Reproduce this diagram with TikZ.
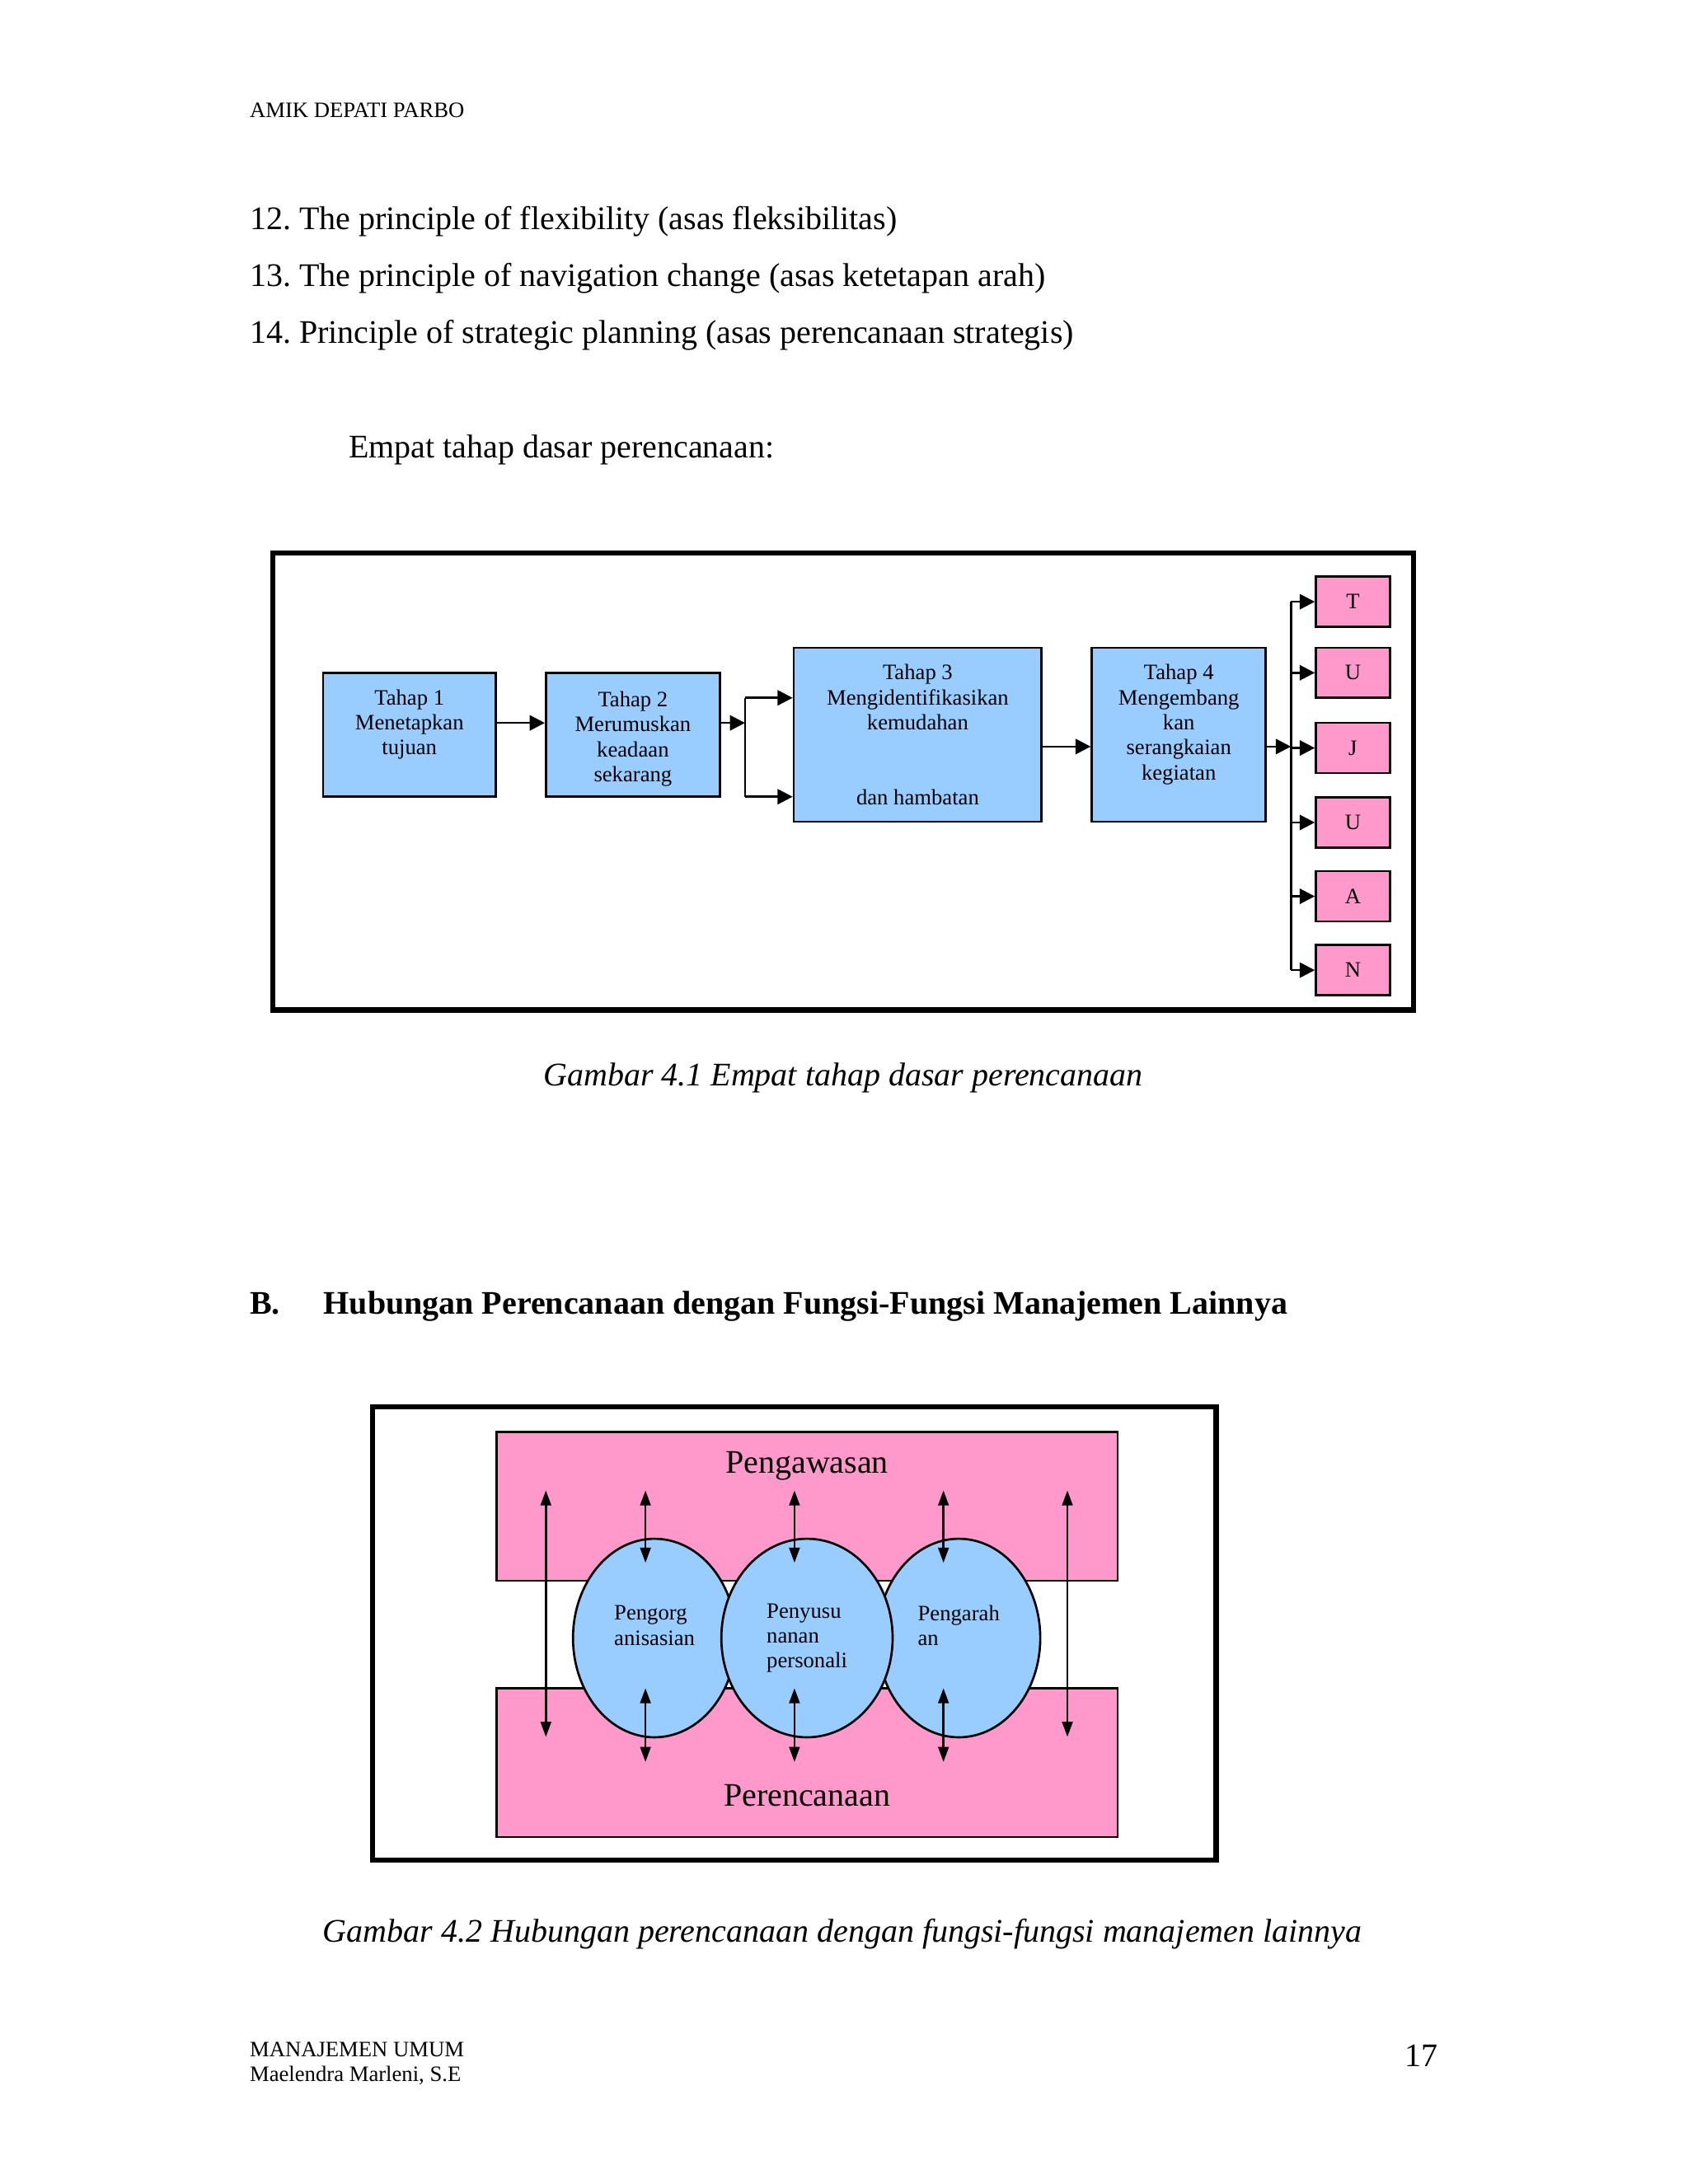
\documentclass[tikz,border=0pt]{standalone}
\usepackage{fontspec}
\setmainfont{Liberation Serif}
\usetikzlibrary{arrows.meta,shapes.geometric}
\definecolor{boxblue}{HTML}{99CCFF}
\definecolor{boxpink}{HTML}{FF99CC}
\frenchspacing
\begin{document}
\begin{tikzpicture}[x=0.50495bp,y=-0.5051bp,
  body/.style={inner sep=0, anchor=mid west, font=\fontsize{12}{14.4}\selectfont},
  bodyc/.style={inner sep=0, anchor=mid, font=\fontsize{12}{14.4}\selectfont},
  small/.style={inner sep=0, anchor=mid west, font=\fontsize{8}{9.6}\selectfont},
  frame/.style={line width=2pt},
  stage/.style={draw, fill=boxblue, line width=0.8pt, inner sep=0, align=center,
    font=\fontsize{8}{9.1}\selectfont},
  letter/.style={draw, fill=boxpink, line width=0.8pt, inner sep=0,
    minimum width=26.8bp, minimum height=18.2bp, font=\fontsize{8}{9.1}\selectfont},
  arr/.style={line width=0.8pt, -{Triangle[length=5.5pt,width=5.5pt]}},
  link/.style={line width=0.8pt},
  dbl/.style={line width=0.8pt, {Triangle[length=5.5pt,width=3.8pt]}-{Triangle[length=5.5pt,width=3.8pt]}},
  pinkrect/.style={draw, fill=boxpink, line width=0.8pt, inner sep=0,
    minimum width=225.3bp, minimum height=54bp},
  func/.style={draw, fill=boxblue, ellipse, line width=0.8pt, inner sep=0, align=left,
    minimum height=72bp, font=\fontsize{8}{9.1}\selectfont}
]
\useasboundingbox[fill=white] (0,0) rectangle (1212,1568);

% ---- page text ----
\node[small] (hdr) at (179,80) {AMIK DEPATI PARBO};
\node[body] (p12) at (179,160) {12. The principle of flexibility (asas fleksibilitas)};
\node[body] (p13) at (179,201) {13. The principle of navigation change (asas ketetapan arah)};
\node[body] (p14) at (179,242) {14. Principle of strategic planning (asas perencanaan strategis)};
\node[body] (emp) at (250,324) {Empat tahap dasar perencanaan:};

% ---- diagram 1 ----
\draw[frame] (196,397) rectangle (1015,725);
\node[stage, minimum width=62.6bp, minimum height=44.95bp] (t1) at (294,527.5)
  {Tahap 1\\Menetapkan\\tujuan\\~};
\node[stage, minimum width=63.1bp, minimum height=44.95bp] (t2) at (454.5,527.5)
  {\rule{0pt}{8.6pt}Tahap 2\\Merumuskan\\keadaan\\sekarang};
\node[stage, minimum width=89.9bp, minimum height=63.1bp] (t3) at (659,527.5)
  {Tahap 3\\Mengidentifikasikan\\kemudahan\\~\\~\\dan hambatan};
\node[stage, minimum width=63.1bp, minimum height=63.1bp] (t4) at (846.5,527.5)
  {Tahap 4\\Mengembang\\kan\\serangkaian\\kegiatan\\~};
\node[letter] (l1) at (971.5,432) {T};
\node[letter] (l2) at (971.5,483) {U};
\node[letter] (l3) at (971.5,537) {J};
\node[letter] (l4) at (971.5,590.5) {U};
\node[letter] (l5) at (971.5,643.5) {A};
\node[letter] (l6) at (971.5,696.5) {N};

\coordinate (y519) at (0,519);
\coordinate (y536) at (0,536);
\coordinate (j2) at (535,519);
\coordinate (j2top) at (535,501);
\coordinate (j2bot) at (535,572);
\coordinate (j4) at (927,536);

\draw[arr] (t1.east |- y519) -- (t2.west |- y519);
\draw[arr] (t2.east |- j2) -- (j2);
\draw[link] (j2top) -- (j2bot);
\draw[arr] (j2top) -- (t3.west |- j2top);
\draw[arr] (j2bot) -- (t3.west |- j2bot);
\draw[arr] (t3.east |- y536) -- (t4.west |- y536);
\draw[arr] (t4.east |- j4) -- (j4);
\draw[link] (j4 |- l1.west) -- (j4 |- l6.west);
\foreach \l in {l1,l2,l3,l4,l5,l6}
  \draw[arr] (j4 |- \l.west) -- (\l.west);

\node[bodyc, font=\fontsize{12}{14.4}\selectfont\itshape] (cap1) at (605.5,775)
  {Gambar 4.1 Empat tahap dasar perencanaan};

% ---- heading B ----
\node[body, font=\fontsize{12}{14.4}\selectfont\bfseries] (hb) at (179,939) {B.};
\node[body, font=\fontsize{12}{14.4}\selectfont\bfseries] (hbt) at (232,939)
  {Hubungan Perencanaan dengan Fungsi-Fungsi Manajemen Lainnya};

% ---- diagram 2 ----
\draw[frame] (267.5,1010) rectangle (873.5,1335.5);
\node[pinkrect] (pw) at (579.5,1081.5) {};
\node[pinkrect] (pr) at (579.5,1265.5) {};
\node[bodyc] (pwl) at (579.5,1053) {Pengawasan};
\node[bodyc] (prl) at (579.5,1292) {Perencanaan};

\node[func, minimum width=59.1bp] (e1) at (470,1176) {Pengorg\\anisasian\\~};
\node[func, minimum width=59.1bp] (e3) at (688.5,1176) {Pengarah\\an\\~};
\node[func, minimum width=62.1bp] (e2) at (579.5,1176) {Penyusu\\nanan\\personali};

\coordinate (a1t) at (392,1070);
\coordinate (a1b) at (392,1247);
\coordinate (a5t) at (766.5,1070);
\coordinate (a5b) at (766.5,1247);
\coordinate (a2t) at (463.5,1070);
\coordinate (a2m) at (463.5,1122);
\coordinate (a2n) at (463.5,1212);
\coordinate (a2b) at (463.5,1265);
\coordinate (a3t) at (570.5,1070);
\coordinate (a3m) at (570.5,1122);
\coordinate (a3n) at (570.5,1212);
\coordinate (a3b) at (570.5,1265);
\coordinate (a4t) at (677.5,1070);
\coordinate (a4m) at (677.5,1122);
\coordinate (a4n) at (677.5,1212);
\coordinate (a4b) at (677.5,1265);
\draw[dbl] (a1t) -- (a1b);
\draw[dbl] (a5t) -- (a5b);
\draw[dbl] (a2t) -- (a2m);
\draw[dbl] (a2n) -- (a2b);
\draw[dbl] (a3t) -- (a3m);
\draw[dbl] (a3n) -- (a3b);
\draw[dbl] (a4t) -- (a4m);
\draw[dbl] (a4n) -- (a4b);

\node[bodyc, font=\fontsize{12}{14.4}\selectfont\itshape] (cap2) at (605,1390)
  {Gambar 4.2 Hubungan perencanaan dengan fungsi-fungsi manajemen lainnya};

% ---- footer ----
\node[small] (f1) at (179,1472) {MANAJEMEN UMUM};
\node[small] (f2) at (179,1490) {Maelendra Marleni, S.E};
\node[body, anchor=mid east] (pg) at (1033,1479) {17};
\end{tikzpicture}
\end{document}
